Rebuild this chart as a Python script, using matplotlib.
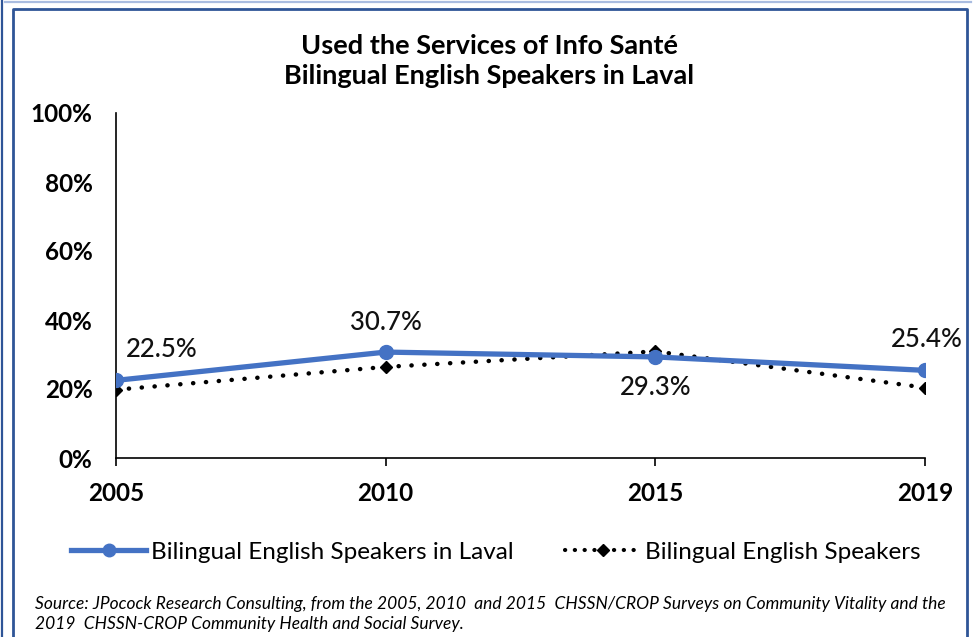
import matplotlib
matplotlib.use("Agg")
import matplotlib.pyplot as plt
from matplotlib.lines import Line2D
from matplotlib.ticker import FuncFormatter

years = ["2005", "2010", "2015", "2019"]
laval = [22.5, 30.7, 29.3, 25.4]
bilingual = [19.8, 26.4, 30.9, 20.4]
laval_labels = ["22.5%", "30.7%", "29.3%", "25.4%"]
y_ticks = [0, 20, 40, 60, 80, 100]

title = "Used the Services of Info Santé\nBilingual English Speakers in Laval"
legend_labels = ["Bilingual English Speakers in Laval", "Bilingual English Speakers"]
source = ("Source: JPocock Research Consulting, from the 2005, 2010  and 2015  CHSSN/CROP Surveys on Community Vitality and the\n"
          "2019  CHSSN-CROP Community Health and Social Survey.")

plt.rcParams['font.family'] = ['Lato', 'DejaVu Sans']

W, H = 979, 637
fig = plt.figure(figsize=(W / 100, H / 100), dpi=100)

def fx(px):
    return px / W

def fy(py):
    return 1 - py / H

ax = fig.add_axes([fx(116), fy(458), fx(925) - fx(116), fy(113) - fy(458)])

blue = "#4472C4"
x = list(range(len(years)))
ax.plot(x, bilingual, color="black", lw=3.2, linestyle=(0, (0.05, 2.85)),
        dash_capstyle="round", marker="D", markersize=6, zorder=2)
ax.plot(x, laval, color=blue, lw=3.8, marker="o", markersize=10, zorder=3,
        solid_capstyle="round")

ax.set_xlim(0, 3)
ax.set_ylim(0, 100)
ax.set_yticks(y_ticks)
ax.yaxis.set_major_formatter(FuncFormatter(lambda v, p: f"{int(v)}%"))
ax.set_xticks(x)
ax.set_xticklabels(years)

for s in ["top", "right"]:
    ax.spines[s].set_visible(False)
ax.spines["left"].set_linewidth(1.2)
ax.spines["bottom"].set_linewidth(1.2)
ax.tick_params(axis="y", length=0, pad=17, labelsize=17.5)
ax.tick_params(axis="x", direction="out", length=6, width=1.2, pad=11, labelsize=17.5)
for lab in ax.get_xticklabels() + ax.get_yticklabels():
    lab.set_fontweight("bold")

offsets = [(7, 22), (0, 21), (0, -22), (1, 22)]
has = ["left", "center", "center", "center"]
for i, (v, t) in enumerate(zip(laval, laval_labels)):
    ax.annotate(t, (x[i], v), xytext=offsets[i], textcoords="offset points",
                ha=has[i], va="center", fontsize=18.5, color="#111111",
                fontweight="medium", clip_on=False)

fig.text(0.5, fy(60.5), title, ha="center", va="center", fontsize=19.5,
         fontweight="bold", linespacing=1.3)

handles = [
    Line2D([], [], color=blue, lw=3.8, marker="o", markersize=9),
    Line2D([], [], color="black", lw=3.0, linestyle=(0, (0.05, 2.3)),
           dash_capstyle="round", marker="D", markersize=6),
]
fig.legend(handles, legend_labels, loc="center", bbox_to_anchor=(fx(496), fy(552)),
           ncol=2, frameon=False, fontsize=17.5, handlelength=3.1, handletextpad=0.2,
           columnspacing=2.1)

fig.text(fx(35), fy(614), source, ha="left", va="center", fontsize=12.5,
         style="italic", linespacing=1.27)

border = "#2F5597"
fig.add_artist(Line2D([fx(2.5), fx(2.5)], [0, 1], color=border, lw=1.6))
fig.add_artist(Line2D([fx(5), fx(971)], [fy(1.5), fy(1.5)], color="#A9BCE0", lw=1.6))
fig.add_artist(Line2D([fx(13.5), fx(13.5), fx(967.5), fx(967.5)],
                      [0, fy(9), fy(9), 0], color=border, lw=2.0))

fig.savefig("out.png", dpi=100)
